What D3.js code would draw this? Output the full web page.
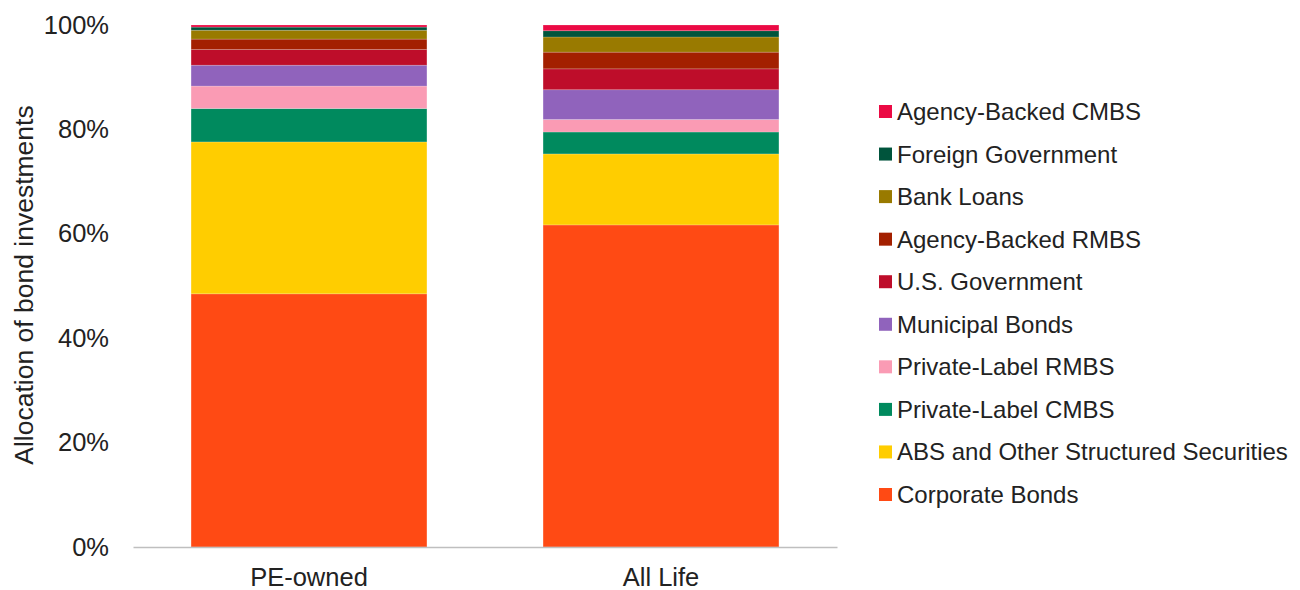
<!DOCTYPE html>
<meta charset="utf-8">
<style>
  body { margin: 0; background: #fff; }
  text { font-family: "Liberation Sans", Arial, sans-serif; fill: #222; }
</style>
<svg id="chart" width="1300" height="590"></svg>
<script src="https://cdn.jsdelivr.net/npm/d3@7"></script>
<script>

// categories (bars)
var groups = ["PE-owned", "All Life"];

// series, bottom to top
var series = ["Corporate Bonds", "ABS and Other Structured Securities", "Private-Label CMBS",
  "Private-Label RMBS", "Municipal Bonds", "U.S. Government", "Agency-Backed RMBS",
  "Bank Loans", "Foreign Government", "Agency-Backed CMBS"];

// % of bond investments, same order as series
var peOwned = [48.5, 29.1, 6.4, 4.3, 4.0, 3.0, 2.0, 1.7, 0.6, 0.4];
var allLife = [61.7, 13.6, 4.2, 2.4, 5.7, 4.0, 3.2, 2.9, 1.2, 1.1];

var colors = ["#ff4a14", "#ffcd00", "#008a5e", "#fa9bb4", "#9063bc",
  "#be0d2a", "#a32000", "#997a00", "#00543c", "#eb0a44"];

var yTicks = [0, 20, 40, 60, 80, 100];

var svg = d3.select("#chart");

var x = d3.scaleBand().domain(groups).range([133, 837]).paddingInner(0.33).paddingOuter(0.165);
var y = d3.scaleLinear().domain([0, 100]).range([547, 25]);
var color = d3.scaleOrdinal().domain(series).range(colors);

// build rows for the stack
var rows = groups.map(function(g, i) {
  var vals = i == 0 ? peOwned : allLife;
  var r = { group: g };
  series.forEach(function(s, j) { r[s] = vals[j]; });
  return r;
});

var stacked = d3.stack().keys(series)(rows);

var layers = svg.append("g").selectAll("g")
  .data(stacked)
  .join("g")
  .attr("fill", function(d) { return color(d.key); });

layers.selectAll("rect")
  .data(function(d) { return d; })
  .join("rect")
  .attr("x", function(d) { return x(d.data.group); })
  .attr("width", x.bandwidth())
  .attr("y", function(d) { return y(d[1]); })
  .attr("height", function(d) { return y(d[0]) - y(d[1]); })
  .attr("stroke", "#fff")
  .attr("stroke-opacity", 0.25)
  .attr("stroke-width", 0.75);

// y axis (labels only)
var yAxis = svg.append("g")
  .attr("transform", "translate(133,0)")
  .call(d3.axisLeft(y).tickValues(yTicks).tickFormat(function(d) { return d + "%"; }).tickSize(0).tickPadding(24));
yAxis.select(".domain").remove();
yAxis.selectAll("text").style("font-size", "25.5px").style("font-family", "Liberation Sans, Arial, sans-serif").attr("fill", "#222");

// x axis
var xAxis = svg.append("g")
  .attr("transform", "translate(0,547)")
  .call(d3.axisBottom(x).tickSize(0).tickPadding(21));
xAxis.select(".domain").attr("stroke", "#bfbfbf").attr("stroke-width", 1.3);
xAxis.selectAll("text").style("font-size", "25.5px").style("font-family", "Liberation Sans, Arial, sans-serif").attr("fill", "#222");

// axis title
svg.append("text")
  .attr("transform", "translate(33,285) rotate(-90)")
  .attr("text-anchor", "middle")
  .style("font-size", "26.5px")
  .text("Allocation of bond investments");

// legend, top entry is the top series
var legendItems = series.slice().reverse();
var ly = d3.scalePoint().domain(legendItems).range([111, 494]);

var legend = svg.append("g").selectAll("g")
  .data(legendItems)
  .join("g")
  .attr("transform", function(d) { return "translate(879," + ly(d) + ")"; });

legend.append("rect")
  .attr("x", 0).attr("y", -6)
  .attr("width", 13).attr("height", 13)
  .attr("fill", function(d) { return color(d); });

legend.append("text")
  .attr("x", 18).attr("y", 9)
  .style("font-size", "24px")
  .text(function(d) { return d; });

</script>
